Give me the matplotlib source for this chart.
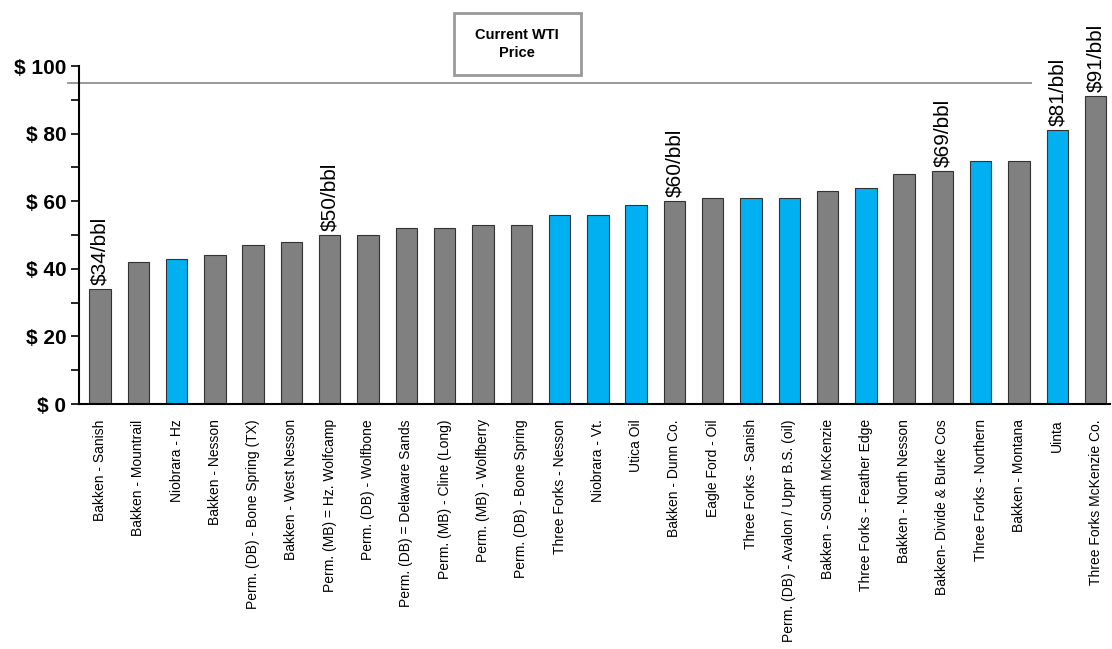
import matplotlib
matplotlib.use('Agg')
import matplotlib.pyplot as plt
from matplotlib.patches import Rectangle
from matplotlib.ticker import MultipleLocator

plt.rcParams['font.family'] = ['Liberation Sans', 'DejaVu Sans']

# Breakeven price by play ($/bbl)
plays = [
    'Bakken - Sanish', 'Bakken - Mountrail', 'Niobrara - Hz', 'Bakken - Nesson',
    'Perm. (DB) - Bone Spring (TX)', 'Bakken - West Nesson', 'Perm. (MB) = Hz. Wolfcamp',
    'Perm. (DB) - Wolfbone', 'Perm. (DB) = Delaware Sands', 'Perm. (MB) - Cline (Long)',
    'Perm. (MB) - Wolfberry', 'Perm. (DB) - Bone Spring', 'Three Forks - Nesson',
    'Niobrara - Vt.', 'Utica Oil', 'Bakken - Dunn Co.', 'Eagle Ford - Oil',
    'Three Forks - Sanish', 'Perm. (DB) - Avalon / Uppr B.S. (oil)', 'Bakken - South McKenzie',
    'Three Forks - Feather Edge', 'Bakken - North Nesson', 'Bakken- Divide & Burke Cos',
    'Three Forks - Northern', 'Bakken - Montana', 'Uinta', 'Three Forks McKenzie Co.',
]
prices = [34, 42, 43, 44, 47, 48, 50, 50, 52, 52, 53, 53, 56, 56, 59, 60, 61, 61, 61,
          63, 64, 68, 69, 72, 72, 81, 91]
highlighted = ['Niobrara - Hz', 'Three Forks - Nesson', 'Niobrara - Vt.', 'Utica Oil',
               'Three Forks - Sanish', 'Perm. (DB) - Avalon / Uppr B.S. (oil)',
               'Three Forks - Feather Edge', 'Three Forks - Northern', 'Uinta']
labelled = ['Bakken - Sanish', 'Perm. (MB) = Hz. Wolfcamp', 'Bakken - Dunn Co.',
            'Bakken- Divide & Burke Cos', 'Uinta', 'Three Forks McKenzie Co.']
wti_price = 95

gray = '#808080'
blue = '#00B0F0'

fig = plt.figure(figsize=(11.12, 6.49), dpi=100)
ax = fig.add_axes([0.071, 0.3775, 0.927, 0.5208])

x = list(range(len(plays)))
colors = [blue if p in highlighted else gray for p in plays]
ax.bar(x, prices, width=0.56, color=colors, edgecolor='#333333', linewidth=0.8)

for i, (p, v) in enumerate(zip(plays, prices)):
    if p in labelled:
        ax.text(i, v + 1.2, f'${v}/bbl', rotation=90, ha='center', va='bottom',
                fontsize=15, clip_on=False)

# current WTI line
ax.plot([-0.84, 24.3], [wti_price, wti_price], color='#999999', lw=1.4, clip_on=False)

ax.set_xlim(-0.55, 26.37)
ax.set_ylim(0, 100)
ax.yaxis.set_major_locator(MultipleLocator(20))
ax.yaxis.set_minor_locator(MultipleLocator(10))
ax.set_yticklabels([f'$ {int(t)}' for t in ax.get_yticks()], fontsize=15, fontweight='bold')
ax.tick_params(axis='y', which='both', direction='out', length=6, width=1.2, pad=3)
ax.set_xticks(x)
ax.set_xticklabels(plays, rotation=90, fontsize=10, va='top')
ax.tick_params(axis='x', length=0, pad=11)

for s in ['top', 'right']:
    ax.spines[s].set_visible(False)
for s in ['left', 'bottom']:
    ax.spines[s].set_linewidth(1.5)

# "Current WTI Price" box
fig.patches.append(Rectangle((454 / 1112, 1 - 75 / 649), 127 / 1112, 62 / 649,
                             transform=fig.transFigure, fill=False,
                             edgecolor='#999999', linewidth=2))
fig.text(517 / 1112, 1 - 44 / 649, 'Current WTI\nPrice', ha='center', va='center',
         fontsize=10.5, fontweight='bold', linespacing=1.3)

fig.savefig('out.png', dpi=100)
